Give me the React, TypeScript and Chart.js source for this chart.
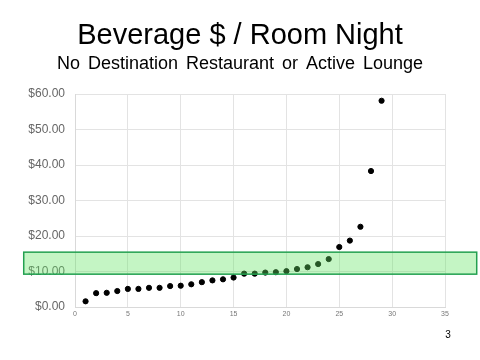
import React, { useEffect, useRef } from "react";
import { Chart, registerables } from "chart.js";

Chart.register(...registerables);

const TITLE = "Beverage $ / Room Night";
const SUBTITLE = "No Destination Restaurant or Active Lounge";
const PAGE_NUMBER = "3";

const xValues = [
  1, 2, 3, 4, 5, 6, 7, 8, 9, 10, 11, 12, 13, 14, 15, 16, 17, 18, 19, 20, 21, 22, 23, 24, 25, 26, 27, 28, 29,
];
const yValues = [
  1.6, 3.9, 4.0, 4.5, 5.1, 5.1, 5.4, 5.4, 5.9, 6.0, 6.4, 7.0, 7.5, 7.8, 8.3, 9.4, 9.4, 9.7, 9.8, 10.1, 10.7,
  11.2, 12.1, 13.5, 16.9, 18.7, 22.6, 38.3, 58.1,
];

// highlight band in data units: [xMin, xMax], [yMin, yMax]
const bandX = [-4.85, 38.0];
const bandY = [9.25, 15.45];

const FONT = "'Liberation Sans', Arial, sans-serif";

const decorPlugin = {
  id: "decor",
  afterDatasetsDraw(chart: any) {
    const { ctx, scales } = chart;
    const x = scales.x;
    const y = scales.y;
    const x0 = x.getPixelForValue(bandX[0]);
    const x1 = x.getPixelForValue(bandX[1]);
    const y0 = y.getPixelForValue(bandY[1]);
    const y1 = y.getPixelForValue(bandY[0]);
    ctx.save();
    ctx.fillStyle = "rgba(100, 230, 100, 0.38)";
    ctx.fillRect(x0, y0, x1 - x0, y1 - y0);
    ctx.strokeStyle = "#23a050";
    ctx.lineWidth = 1.5;
    ctx.strokeRect(x0, y0, x1 - x0, y1 - y0);
    ctx.restore();
  },
  afterDraw(chart: any) {
    const { ctx } = chart;
    const cx = chart.width / 2;
    ctx.save();
    ctx.fillStyle = "#000";
    ctx.textAlign = "center";
    ctx.textBaseline = "alphabetic";
    ctx.font = `29px ${FONT}`;
    ctx.fillText(TITLE, cx, 44);
    ctx.font = `18px ${FONT}`;
    (ctx as any).wordSpacing = "3px";
    ctx.fillText(SUBTITLE, cx, 69);
    (ctx as any).wordSpacing = "0px";
    ctx.font = `10px ${FONT}`;
    ctx.fillText(PAGE_NUMBER, 448, 338);
    ctx.restore();
  },
};

export default function App() {
  const ref = useRef<HTMLCanvasElement>(null);
  useEffect(() => {
    if (!ref.current) return;
    const chart = new Chart(ref.current, {
      type: "scatter",
      data: {
        datasets: [
          {
            data: xValues.map((x, i) => ({ x, y: yValues[i] })),
            backgroundColor: "#000",
            borderColor: "#000",
            pointRadius: 2.6,
            pointHoverRadius: 2.6,
          },
        ],
      },
      options: {
        animation: false,
        responsive: false,
        events: [],
        layout: { padding: { left: 0, right: 35, top: 94, bottom: 0 } },
        plugins: {
          legend: { display: false },
          tooltip: { enabled: false },
          title: { display: false },
        },
        scales: {
          x: {
            type: "linear",
            min: 0,
            max: 35,
            ticks: { stepSize: 5, color: "#777", font: { family: FONT, size: 7 }, padding: 3 },
            grid: { color: "#e3e3e3", drawTicks: false },
            border: { color: "#d9d9d9" },
            afterFit: (s: any) => {
              s.height = 53;
            },
          },
          y: {
            min: 0,
            max: 60,
            ticks: {
              stepSize: 10,
              color: "#666",
              font: { family: FONT, size: 12 },
              padding: 10,
              callback: (v: any) => "$" + Number(v).toFixed(2),
            },
            grid: { color: "#e3e3e3", drawTicks: false },
            border: { color: "#d9d9d9" },
            afterFit: (s: any) => {
              s.width = 75;
            },
          },
        },
      },
      plugins: [decorPlugin],
    });
    return () => chart.destroy();
  }, []);
  return (
    <div style={{ position: "fixed", left: 0, top: 0, width: 480, height: 360, background: "#fff" }}>
      <canvas ref={ref} width={480} height={360} style={{ width: 480, height: 360 }} />
    </div>
  );
}
